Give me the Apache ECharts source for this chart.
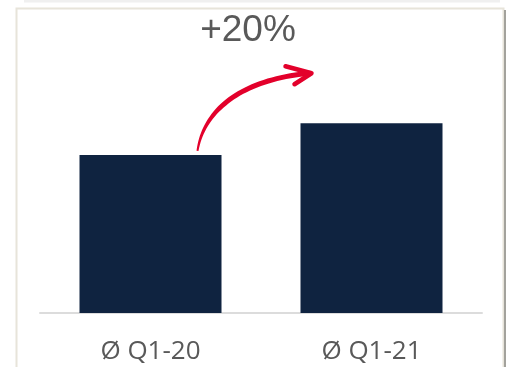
<!DOCTYPE html>
<html>
<head>
<meta charset="utf-8">
<script src="https://cdn.jsdelivr.net/npm/echarts@6/dist/echarts.min.js"></script>
<style>
  html, body { margin: 0; padding: 0; background: #ffffff; }
  #chart { width: 507px; height: 367px; }
</style>
</head>
<body>
<div id="chart"></div>
<script>
// Quarterly averages (indexed), growth label between them
const categories = ['Ø Q1-20', 'Ø Q1-21'];
const values = [100, 120];
const growthLabel = '+20%';

const chart = echarts.init(document.getElementById('chart'), null, { renderer: 'canvas' });

chart.setOption({
  animation: false,
  backgroundColor: '#ffffff',
  grid: { left: 40, right: 25, top: 60, bottom: 54 },
  xAxis: {
    type: 'category',
    data: categories,
    axisLine: { show: true, lineStyle: { color: '#dcdcdc', width: 2 } },
    axisTick: { show: false },
    axisLabel: {
      margin: 26,
      fontFamily: 'Open Sans',
      fontSize: 26,
      color: '#595959'
    }
  },
  yAxis: {
    type: 'value',
    min: 0,
    max: 160,
    show: false,
    splitLine: { show: false }
  },
  series: [{
    type: 'bar',
    data: values,
    barWidth: 142,
    itemStyle: { color: '#0f2340' }
  }]
});

// Tapered brush-stroke arrow from the first bar's top towards the second bar
function brushArrow(p0, c1, c2, p3, w0, w1) {
  const n = 40;
  const left = [], right = [];
  for (let i = 0; i <= n; i++) {
    const t = i / n, u = 1 - t;
    const x = u*u*u*p0[0] + 3*u*u*t*c1[0] + 3*u*t*t*c2[0] + t*t*t*p3[0];
    const y = u*u*u*p0[1] + 3*u*u*t*c1[1] + 3*u*t*t*c2[1] + t*t*t*p3[1];
    const dx = 3*u*u*(c1[0]-p0[0]) + 6*u*t*(c2[0]-c1[0]) + 3*t*t*(p3[0]-c2[0]);
    const dy = 3*u*u*(c1[1]-p0[1]) + 6*u*t*(c2[1]-c1[1]) + 3*t*t*(p3[1]-c2[1]);
    const len = Math.hypot(dx, dy) || 1;
    const w = (w0 + (w1 - w0) * Math.min(1, t * 2.2)) / 2;
    const nx = -dy / len * w, ny = dx / len * w;
    left.push([x + nx, y + ny]);
    right.push([x - nx, y - ny]);
  }
  return left.concat(right.reverse());
}

function drawDecor() {
  const top1 = chart.convertToPixel({ seriesIndex: 0 }, [0, values[0]]);
  const top2 = chart.convertToPixel({ seriesIndex: 0 }, [1, values[1]]);
  const half = 71;

  const start = [top1[0] + 47, top1[1] - 4];
  const tip = [top2[0] - half + 10, top2[1] - 50];
  const c1 = [start[0] + 6, start[1] - 40];
  const c2 = [start[0] + 43, tip[1] + 6];

  const red = '#e3002b';

  chart.setOption({
    graphic: [
      // panel frame
      {
        type: 'rect', silent: true, z: -1,
        shape: { x: 16.5, y: 8.5, width: 487, height: 400 },
        style: { fill: null, stroke: '#e7e4da', lineWidth: 2 }
      },
      {
        type: 'line', silent: true, z: -1,
        shape: { x1: 505, y1: 10, x2: 505, y2: 367 },
        style: { stroke: '#a3a29c', lineWidth: 2 }
      },
      {
        type: 'line', silent: true, z: -1,
        shape: { x1: 24, y1: 1, x2: 500, y2: 1 },
        style: { stroke: '#f0f0f0', lineWidth: 3 }
      },
      // growth label
      {
        type: 'text', silent: true,
        x: 248, y: 31,
        style: {
          text: growthLabel,
          fontFamily: 'Liberation Sans',
          fontSize: 37,
          fill: '#595959',
          align: 'center',
          verticalAlign: 'middle'
        }
      },
      // arrow body
      {
        type: 'polygon', silent: true,
        shape: { points: brushArrow(start, c1, c2, tip, 2, 5) },
        style: { fill: red }
      },
      // arrow head
      {
        type: 'polyline', silent: true,
        shape: { points: [[tip[0] - 25, tip[1] - 7], [tip[0] + 1, tip[1]], [tip[0] - 16, tip[1] + 11]] },
        style: { stroke: red, lineWidth: 4.5, lineCap: 'round', lineJoin: 'round', fill: null }
      }
    ]
  });
}

drawDecor();
</script>
</body>
</html>
